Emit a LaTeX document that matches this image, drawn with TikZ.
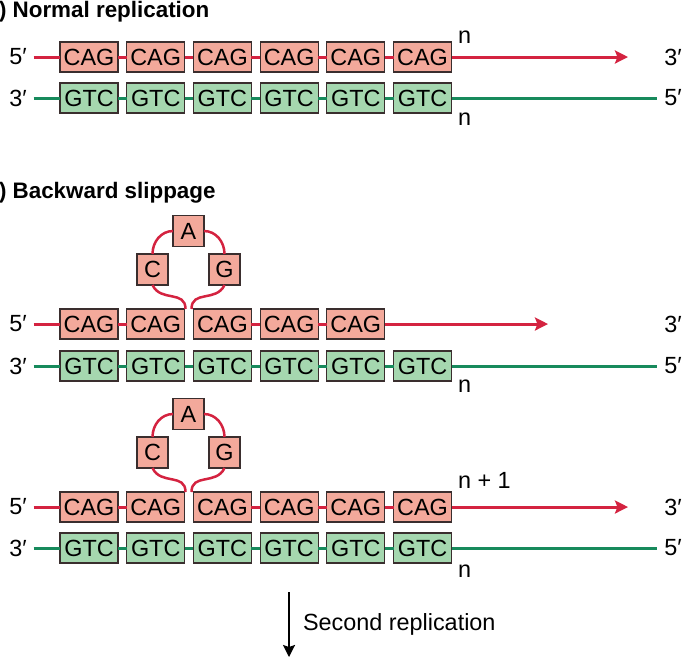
\documentclass[tikz,border=0pt]{standalone}
\usepackage{fontspec}
\setmainfont{Liberation Sans}
\usetikzlibrary{arrows.meta}
\definecolor{cagfill}{HTML}{F3A99B}
\definecolor{gtcfill}{HTML}{A5D7AF}
\definecolor{redstrand}{HTML}{D42340}
\definecolor{greenstrand}{HTML}{178A5C}
\definecolor{boxline}{HTML}{3A2E2E}
\begin{document}
\begin{tikzpicture}[x=0.5pt, y=0.5pt]
\tikzset{ >={Stealth[length=6.5pt,width=6.5pt,inset=1.2pt]}, inner sep=0pt, outer sep=0pt,
  every node/.style={font=\fontsize{11.7}{14}\selectfont},
  nbox/.style={draw=boxline, line width=0.6pt, minimum width=29pt, minimum height=15pt},
  cag/.style={nbox, fill=cagfill},
  gtc/.style={nbox, fill=gtcfill},
  nt/.style={cag, minimum width=15.5pt, minimum height=15.5pt},
  lab/.style={inner sep=3.5pt},
  redline/.style={draw=redstrand, line width=1.5pt},
  greenline/.style={draw=greenstrand, line width=1.5pt},
  loopline/.style={draw=redstrand, line width=1.25pt},
  title/.style={anchor=base west, font=\fontsize{11.2}{13}\selectfont\bfseries},
}

\useasboundingbox (0,0) rectangle (699,-661);

%% (a) normal replication
\node [title] (ta) at (-1,-17) {) Normal replication};

\node [lab] (L1) at (18,-57) {5′};
\node [cag] (a1) at (89,-57)    {CAG};
\node [cag] (a2) at (155.7,-57) {CAG};
\node [cag] (a3) at (222.4,-57) {CAG};
\node [cag] (a4) at (289.1,-57) {CAG};
\node [cag] (a5) at (355.8,-57) {CAG};
\node [cag] (a6) at (422.5,-57) {CAG};
\coordinate (E1) at (628,-57);
\node [lab] (R1) at (673,-57) {3′};

\node [lab] (L2) at (18,-98) {3′};
\node [gtc] (b1) at (89,-98)    {GTC};
\node [gtc] (b2) at (155.7,-98) {GTC};
\node [gtc] (b3) at (222.4,-98) {GTC};
\node [gtc] (b4) at (289.1,-98) {GTC};
\node [gtc] (b5) at (355.8,-98) {GTC};
\node [gtc] (b6) at (422.5,-98) {GTC};
\node [lab] (R2) at (673,-98) {5′};

\draw [redline] (L1) -- (a1) -- (a2) -- (a3) -- (a4) -- (a5) -- (a6);
\draw [redline, ->] (a6) -- (E1);
\draw [greenline] (L2) -- (b1) -- (b2) -- (b3) -- (b4) -- (b5) -- (b6) -- (R2);

\node [anchor=base west] (n1) at (458,-43) {n};
\node [anchor=base west] (n2) at (458,-125) {n};

%% (b) backward slippage
\node [title] (tb) at (-1,-198) {) Backward slippage};

\node [nt] (lA1) at (188.5,-231)   {A};
\node [nt] (lC1) at (152.5,-269.5) {C};
\node [nt] (lG1) at (224.5,-269.5) {G};
\coordinate (gl1) at (185.5,-309);
\coordinate (gr1) at (191.5,-309);

\node [lab] (L3) at (18,-324) {5′};
\node [cag] (c1) at (89,-324)    {CAG};
\node [cag] (c2) at (155.7,-324) {CAG};
\node [cag] (c3) at (222.4,-324) {CAG};
\node [cag] (c4) at (289.1,-324) {CAG};
\node [cag] (c5) at (355.8,-324) {CAG};
\coordinate (E3) at (548,-324);
\node [lab] (R3) at (673,-324) {3′};

\node [lab] (L4) at (18,-366) {3′};
\node [gtc] (d1) at (89,-366)    {GTC};
\node [gtc] (d2) at (155.7,-366) {GTC};
\node [gtc] (d3) at (222.4,-366) {GTC};
\node [gtc] (d4) at (289.1,-366) {GTC};
\node [gtc] (d5) at (355.8,-366) {GTC};
\node [gtc] (d6) at (422.5,-366) {GTC};
\node [lab] (R4) at (673,-366) {5′};

\draw [loopline] (lA1) to[out=180, in=90] (lC1);
\draw [loopline] (lA1) to[out=0, in=90] (lG1);
\draw [loopline] (lC1.south) to[out=-65, in=90, looseness=1.2] (gl1);
\draw [loopline] (lG1.south) to[out=-115, in=90, looseness=1.2] (gr1);

\draw [redline] (L3) -- (c1) -- (c2);
\draw [redline] (c3) -- (c4) -- (c5);
\draw [redline, ->] (c5) -- (E3);
\draw [greenline] (L4) -- (d1) -- (d2) -- (d3) -- (d4) -- (d5) -- (d6) -- (R4);

\node [anchor=base west] (n3) at (458,-392) {n};

% after slippage
\node [nt] (lA2) at (188.5,-414)   {A};
\node [nt] (lC2) at (152.5,-452.5) {C};
\node [nt] (lG2) at (224.5,-452.5) {G};
\coordinate (gl2) at (185.5,-492);
\coordinate (gr2) at (191.5,-492);

\node [lab] (L5) at (18,-507) {5′};
\node [cag] (e1) at (89,-507)    {CAG};
\node [cag] (e2) at (155.7,-507) {CAG};
\node [cag] (e3) at (222.4,-507) {CAG};
\node [cag] (e4) at (289.1,-507) {CAG};
\node [cag] (e5) at (355.8,-507) {CAG};
\node [cag] (e6) at (422.5,-507) {CAG};
\coordinate (E5) at (628,-507);
\node [lab] (R5) at (673,-507) {3′};

\node [lab] (L6) at (18,-548) {3′};
\node [gtc] (f1) at (89,-548)    {GTC};
\node [gtc] (f2) at (155.7,-548) {GTC};
\node [gtc] (f3) at (222.4,-548) {GTC};
\node [gtc] (f4) at (289.1,-548) {GTC};
\node [gtc] (f5) at (355.8,-548) {GTC};
\node [gtc] (f6) at (422.5,-548) {GTC};
\node [lab] (R6) at (673,-548) {5′};

\draw [loopline] (lA2) to[out=180, in=90] (lC2);
\draw [loopline] (lA2) to[out=0, in=90] (lG2);
\draw [loopline] (lC2.south) to[out=-65, in=90, looseness=1.2] (gl2);
\draw [loopline] (lG2.south) to[out=-115, in=90, looseness=1.2] (gr2);

\draw [redline] (L5) -- (e1) -- (e2);
\draw [redline] (e3) -- (e4) -- (e5) -- (e6);
\draw [redline, ->] (e6) -- (E5);
\draw [greenline] (L6) -- (f1) -- (f2) -- (f3) -- (f4) -- (f5) -- (f6) -- (R6);

\node [anchor=base west] (n4) at (458,-488) {n + 1};
\node [anchor=base west] (n5) at (458,-577) {n};

% second replication
\coordinate (S1) at (289,-592);
\coordinate (S2) at (289,-657);
\draw [line width=1.1pt, -{Stealth[length=6pt,width=6pt,inset=1pt]}] (S1) -- (S2);
\node [anchor=base west] (sr) at (303,-630) {Second replication};

\end{tikzpicture}
\end{document}
